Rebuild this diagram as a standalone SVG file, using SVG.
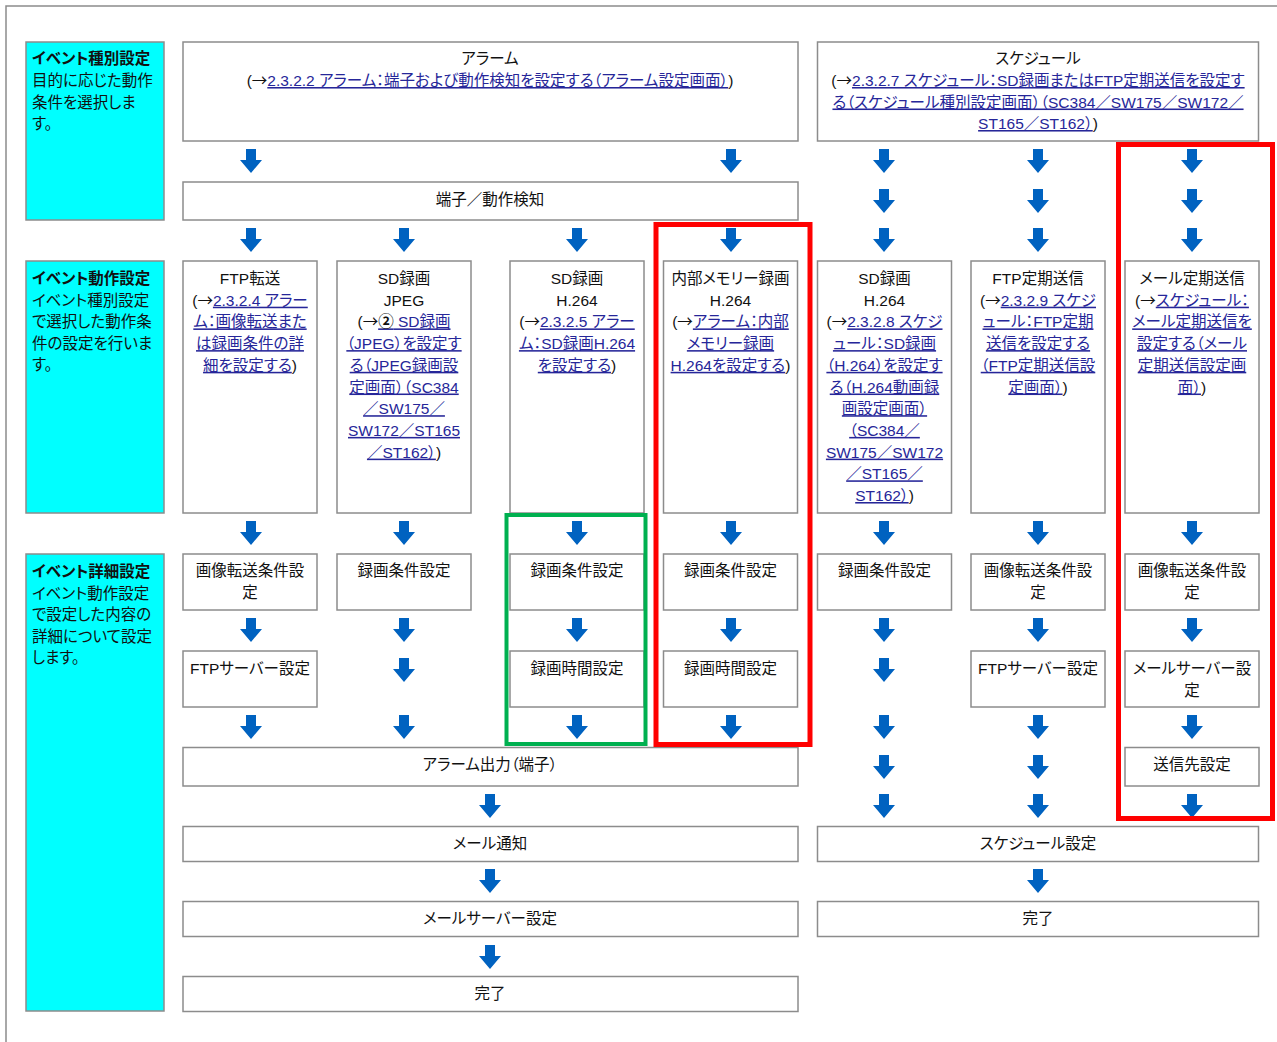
<svg xmlns="http://www.w3.org/2000/svg" xmlns:xlink="http://www.w3.org/1999/xlink" width="1277" height="1042" viewBox="0 0 1277 1042">
<style>
.box{fill:#fff;stroke:#8c8c8c;stroke-width:1.5}
.cyan{fill:#00ffff;stroke:#8c8c8c;stroke-width:1.5}
text{font-family:"Liberation Sans","Noto Sans CJK JP",sans-serif;font-size:15.5px;fill:#111;font-feature-settings:"palt" 1}
.c{text-anchor:middle}
.b{font-weight:bold}
.lk{fill:#262699;text-decoration:underline}
.ar{font-family:"Noto Sans CJK JP",sans-serif}
.num{fill:#111;font-weight:bold}
.frame{fill:none;stroke:#8c8c8c;stroke-width:1.5}
.red{fill:none;stroke:#ff0000;stroke-width:5}
.green{fill:none;stroke:#00b050;stroke-width:4}
</style>
<defs>
<symbol id="arr" overflow="visible"><path d="M-5,0 H5 V11 H11 L0,24 L-11,11 H-5 Z" fill="#0062c0"/></symbol>
</defs>
<rect width="1277" height="1042" fill="#fff"/>
<path class="frame" d="M6,1042 V6 H1277"/>

<g id="lbl-type"><rect class="cyan" x="26" y="42" width="138" height="178"/>
<text x="32" y="64" class="b">イベント種別設定</text>
<text x="32" y="86">目的に応じた動作</text>
<text x="32" y="107.5">条件を選択しま</text>
<text x="32" y="129">す。</text></g>

<g id="lbl-action"><rect class="cyan" x="26" y="261" width="138" height="252"/>
<text x="32" y="284" class="b">イベント動作設定</text>
<text x="32" y="305.5">イベント種別設定</text>
<text x="32" y="327">で選択した動作条</text>
<text x="32" y="348.5">件の設定を行いま</text>
<text x="32" y="370">す。</text></g>

<g id="lbl-detail"><rect class="cyan" x="26" y="554" width="138" height="457"/>
<text x="32" y="577" class="b">イベント詳細設定</text>
<text x="32" y="598.5">イベント動作設定</text>
<text x="32" y="620">で設定した内容の</text>
<text x="32" y="641.5">詳細について設定</text>
<text x="32" y="663">します。</text></g>

<g id="alarm"><rect class="box" x="183" y="42" width="615" height="99"/>
<text x="490" y="64" class="c">アラーム</text>
<text x="490" y="86" class="c">(<tspan class="ar">→</tspan><tspan class="lk">2.3.2.2 アラーム：端子および動作検知を設定する（アラーム設定画面）</tspan>)</text></g>

<g id="schedule"><rect class="box" x="817.5" y="42" width="441" height="99"/>
<text x="1038" y="64" class="c">スケジュール</text>
<text x="1038" y="86" class="c">(<tspan class="ar">→</tspan><tspan class="lk">2.3.2.7 スケジュール：SD録画またはFTP定期送信を設定す</tspan></text>
<text x="1038" y="107.5" class="c"><tspan class="lk">る（スケジュール種別設定画面）（SC384／SW175／SW172／</tspan></text>
<text x="1038" y="129" class="c"><tspan class="lk">ST165／ST162）</tspan>)</text></g>

<g id="terminal"><rect class="box" x="183" y="182" width="615" height="38"/>
<text x="490" y="205" class="c">端子／動作検知</text></g>

<g id="ftp"><rect class="box" x="183" y="261" width="134" height="252"/>
<text x="250" y="284" class="c">FTP転送</text>
<text x="250" y="305.7" class="c">(<tspan class="ar">→</tspan><tspan class="lk">2.3.2.4 アラー</tspan></text>
<text x="250" y="327.4" class="c"><tspan class="lk">ム：画像転送また</tspan></text>
<text x="250" y="349.1" class="c"><tspan class="lk">は録画条件の詳</tspan></text>
<text x="250" y="370.8" class="c"><tspan class="lk">細を設定する</tspan>)</text></g>

<g id="sd-jpeg"><rect class="box" x="337" y="261" width="134" height="252"/>
<text x="404" y="284" class="c">SD録画</text>
<text x="404" y="305.7" class="c">JPEG</text>
<text x="404" y="327.4" class="c">(<tspan class="ar">→</tspan><tspan class="lk"><tspan class="num">②</tspan> SD録画</tspan></text>
<text x="404" y="349.1" class="c"><tspan class="lk">（JPEG）を設定す</tspan></text>
<text x="404" y="370.8" class="c"><tspan class="lk">る（JPEG録画設</tspan></text>
<text x="404" y="392.5" class="c"><tspan class="lk">定画面）（SC384</tspan></text>
<text x="404" y="414.2" class="c"><tspan class="lk">／SW175／</tspan></text>
<text x="404" y="435.9" class="c"><tspan class="lk">SW172／ST165</tspan></text>
<text x="404" y="457.6" class="c"><tspan class="lk">／ST162）</tspan>)</text></g>

<g id="sd-h264"><rect class="box" x="510" y="261" width="134" height="252"/>
<text x="577" y="284" class="c">SD録画</text>
<text x="577" y="305.7" class="c">H.264</text>
<text x="577" y="327.4" class="c">(<tspan class="ar">→</tspan><tspan class="lk">2.3.2.5 アラー</tspan></text>
<text x="577" y="349.1" class="c"><tspan class="lk">ム：SD録画H.264</tspan></text>
<text x="577" y="370.8" class="c"><tspan class="lk">を設定する</tspan>)</text></g>

<g id="mem-h264"><rect class="box" x="663.5" y="261" width="134" height="252"/>
<text x="730.5" y="284" class="c">内部メモリー録画</text>
<text x="730.5" y="305.7" class="c">H.264</text>
<text x="730.5" y="327.4" class="c">(<tspan class="ar">→</tspan><tspan class="lk">アラーム：内部</tspan></text>
<text x="730.5" y="349.1" class="c"><tspan class="lk">メモリー録画</tspan></text>
<text x="730.5" y="370.8" class="c"><tspan class="lk">H.264を設定する</tspan>)</text></g>

<g id="sch-sd-h264"><rect class="box" x="817.5" y="261" width="134" height="252"/>
<text x="884.5" y="284" class="c">SD録画</text>
<text x="884.5" y="305.7" class="c">H.264</text>
<text x="884.5" y="327.4" class="c">(<tspan class="ar">→</tspan><tspan class="lk">2.3.2.8 スケジ</tspan></text>
<text x="884.5" y="349.1" class="c"><tspan class="lk">ュール：SD録画</tspan></text>
<text x="884.5" y="370.8" class="c"><tspan class="lk">（H.264）を設定す</tspan></text>
<text x="884.5" y="392.5" class="c"><tspan class="lk">る（H.264動画録</tspan></text>
<text x="884.5" y="414.2" class="c"><tspan class="lk">画設定画面）</tspan></text>
<text x="884.5" y="435.9" class="c"><tspan class="lk">（SC384／</tspan></text>
<text x="884.5" y="457.6" class="c"><tspan class="lk">SW175／SW172</tspan></text>
<text x="884.5" y="479.3" class="c"><tspan class="lk">／ST165／</tspan></text>
<text x="884.5" y="501" class="c"><tspan class="lk">ST162）</tspan>)</text></g>

<g id="ftp-periodic"><rect class="box" x="971" y="261" width="134" height="252"/>
<text x="1038" y="284" class="c">FTP定期送信</text>
<text x="1038" y="305.7" class="c">(<tspan class="ar">→</tspan><tspan class="lk">2.3.2.9 スケジ</tspan></text>
<text x="1038" y="327.4" class="c"><tspan class="lk">ュール：FTP定期</tspan></text>
<text x="1038" y="349.1" class="c"><tspan class="lk">送信を設定する</tspan></text>
<text x="1038" y="370.8" class="c"><tspan class="lk">（FTP定期送信設</tspan></text>
<text x="1038" y="392.5" class="c"><tspan class="lk">定画面）</tspan>)</text></g>

<g id="mail-periodic"><rect class="box" x="1125" y="261" width="134" height="252"/>
<text x="1192" y="284" class="c">メール定期送信</text>
<text x="1192" y="305.7" class="c">(<tspan class="ar">→</tspan><tspan class="lk">スケジュール：</tspan></text>
<text x="1192" y="327.4" class="c"><tspan class="lk">メール定期送信を</tspan></text>
<text x="1192" y="349.1" class="c"><tspan class="lk">設定する（メール</tspan></text>
<text x="1192" y="370.8" class="c"><tspan class="lk">定期送信設定画</tspan></text>
<text x="1192" y="392.5" class="c"><tspan class="lk">面）</tspan>)</text></g>

<g id="c1-cond"><rect class="box" x="183" y="554" width="134" height="56"/>
<text x="250" y="576" class="c">画像転送条件設</text><text x="250" y="598" class="c">定</text></g>
<g id="c2-cond"><rect class="box" x="337" y="554" width="134" height="56"/>
<text x="404" y="576" class="c">録画条件設定</text></g>
<g id="c3-cond"><rect class="box" x="510" y="554" width="134" height="56"/>
<text x="577" y="576" class="c">録画条件設定</text></g>
<g id="c4-cond"><rect class="box" x="663.5" y="554" width="134" height="56"/>
<text x="730.5" y="576" class="c">録画条件設定</text></g>
<g id="c5-cond"><rect class="box" x="817.5" y="554" width="134" height="56"/>
<text x="884.5" y="576" class="c">録画条件設定</text></g>
<g id="c6-cond"><rect class="box" x="971" y="554" width="134" height="56"/>
<text x="1038" y="576" class="c">画像転送条件設</text><text x="1038" y="598" class="c">定</text></g>
<g id="c7-cond"><rect class="box" x="1125" y="554" width="134" height="56"/>
<text x="1192" y="576" class="c">画像転送条件設</text><text x="1192" y="598" class="c">定</text></g>

<g id="c1-ftpsrv"><rect class="box" x="183" y="651" width="134" height="56"/>
<text x="250" y="674" class="c">FTPサーバー設定</text></g>
<g id="c3-time"><rect class="box" x="510" y="651" width="134" height="56"/>
<text x="577" y="674" class="c">録画時間設定</text></g>
<g id="c4-time"><rect class="box" x="663.5" y="651" width="134" height="56"/>
<text x="730.5" y="674" class="c">録画時間設定</text></g>
<g id="c6-ftpsrv"><rect class="box" x="971" y="651" width="134" height="56"/>
<text x="1038" y="674" class="c">FTPサーバー設定</text></g>
<g id="c7-mailsrv"><rect class="box" x="1125" y="651" width="134" height="56"/>
<text x="1192" y="674" class="c">メールサーバー設</text><text x="1192" y="696" class="c">定</text></g>

<g id="alarm-out"><rect class="box" x="183" y="747.5" width="615" height="38.5"/>
<text x="490" y="770" class="c">アラーム出力（端子）</text></g>
<g id="dest"><rect class="box" x="1125" y="747.5" width="134" height="38.5"/>
<text x="1192" y="770" class="c">送信先設定</text></g>
<g id="mail-notify"><rect class="box" x="183" y="826.5" width="615" height="35"/>
<text x="490" y="849" class="c">メール通知</text></g>
<g id="sched-set"><rect class="box" x="817.5" y="826.5" width="441" height="35"/>
<text x="1038" y="849" class="c">スケジュール設定</text></g>
<g id="mail-server"><rect class="box" x="183" y="901.5" width="615" height="35"/>
<text x="490" y="924" class="c">メールサーバー設定</text></g>
<g id="done-right"><rect class="box" x="817.5" y="901.5" width="441" height="35"/>
<text x="1038" y="924" class="c">完了</text></g>
<g id="done-left"><rect class="box" x="183" y="976.5" width="615" height="35"/>
<text x="490" y="999" class="c">完了</text></g>

<g id="connectors">
<use href="#arr" x="251" y="149"/><use href="#arr" x="731" y="149"/>
<use href="#arr" x="884" y="149"/><use href="#arr" x="1038" y="149"/><use href="#arr" x="1192" y="149"/>
<use href="#arr" x="884" y="189"/><use href="#arr" x="1038" y="189"/><use href="#arr" x="1192" y="189"/>
<use href="#arr" x="251" y="228"/><use href="#arr" x="404" y="228"/><use href="#arr" x="577" y="228"/><use href="#arr" x="731" y="228"/><use href="#arr" x="884" y="228"/><use href="#arr" x="1038" y="228"/><use href="#arr" x="1192" y="228"/>
<use href="#arr" x="251" y="521"/><use href="#arr" x="404" y="521"/><use href="#arr" x="577" y="521"/><use href="#arr" x="731" y="521"/><use href="#arr" x="884" y="521"/><use href="#arr" x="1038" y="521"/><use href="#arr" x="1192" y="521"/>
<use href="#arr" x="251" y="618"/><use href="#arr" x="404" y="618"/><use href="#arr" x="577" y="618"/><use href="#arr" x="731" y="618"/><use href="#arr" x="884" y="618"/><use href="#arr" x="1038" y="618"/><use href="#arr" x="1192" y="618"/>
<use href="#arr" x="404" y="658"/><use href="#arr" x="884" y="658"/>
<use href="#arr" x="251" y="715"/><use href="#arr" x="404" y="715"/><use href="#arr" x="577" y="715"/><use href="#arr" x="731" y="715"/><use href="#arr" x="884" y="715"/><use href="#arr" x="1038" y="715"/><use href="#arr" x="1192" y="715"/>
<use href="#arr" x="884" y="755"/><use href="#arr" x="1038" y="755"/>
<use href="#arr" x="490" y="794"/><use href="#arr" x="884" y="794"/><use href="#arr" x="1038" y="794"/><use href="#arr" x="1192" y="794"/>
<use href="#arr" x="490" y="869"/><use href="#arr" x="1038" y="869"/>
<use href="#arr" x="490" y="945"/>
</g>

<g id="highlights">
<rect class="red" x="656" y="224.5" width="154" height="520"/>
<rect class="red" x="1118.5" y="144.5" width="154" height="674"/>
<rect class="green" x="506.5" y="515" width="139" height="229"/>
</g>
</svg>
